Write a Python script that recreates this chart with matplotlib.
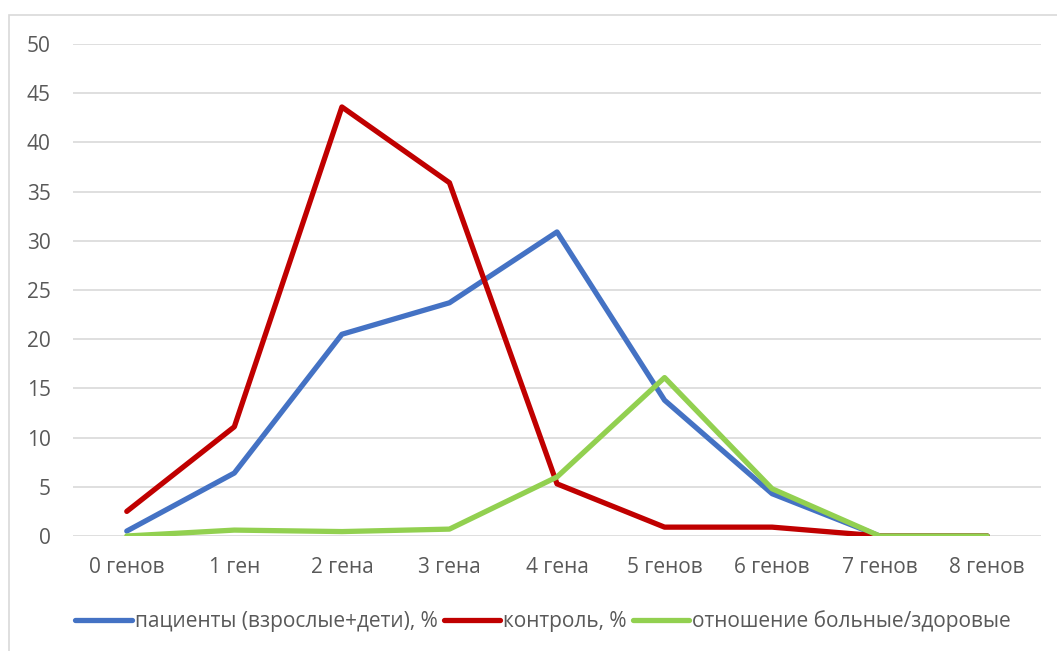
import matplotlib
matplotlib.use("Agg")
import matplotlib.pyplot as plt
from matplotlib.patches import Rectangle

plt.rcParams['font.family'] = ['Open Sans', 'DejaVu Sans']

# categories and series
categories = ["0 генов", "1 ген", "2 гена", "3 гена", "4 гена",
              "5 генов", "6 генов", "7 генов", "8 генов"]
patients = [0.5, 6.4, 20.5, 23.7, 30.9, 13.8, 4.3, 0, 0]
control = [2.5, 11.1, 43.6, 35.9, 5.3, 0.9, 0.9, 0, 0]
ratio = [0, 0.6, 0.45, 0.7, 6.0, 16.1, 4.8, 0, 0]

names = ["пациенты (взрослые+дети), %", "контроль, %",
         "отношение больные/здоровые"]
colors = ["#4472c4", "#c00000", "#92d050"]

fig = plt.figure(figsize=(10.57, 6.51), dpi=100)
ax = fig.add_axes([73/1057, 1 - 536/651, (1041-73)/1057, (536-44)/651])

# chart border (light grey, cut at right / bottom)
fig.patches.append(Rectangle((9/1057, -0.1), 1.1, 0.1 + (651-15)/651,
                             transform=fig.transFigure, fill=False,
                             edgecolor="#d9d9d9", lw=1.2))

x = list(range(len(categories)))
for ys, name, c in zip([patients, control, ratio], names, colors):
    ax.plot(x, ys, color=c, lw=3.8, label=name, solid_capstyle="round",
            solid_joinstyle="round")

ax.set_xlim(-0.5, len(categories) - 0.5)
ax.set_ylim(0, 50)
ax.set_yticks(range(0, 51, 5))
ax.set_xticks(x)
ax.set_xticklabels(categories)
ax.yaxis.grid(True, color="#d9d9d9", lw=1.2)
ax.set_axisbelow(True)
for s in ax.spines.values():
    s.set_visible(False)
ax.tick_params(length=0, colors="#595959", labelsize=15)
ax.tick_params(axis="x", pad=15)
ax.tick_params(axis="y", pad=16)
for lab in ax.get_yticklabels():
    lab.set_horizontalalignment("right")

leg = fig.legend(loc="center", bbox_to_anchor=(0.514, 1 - 621/651), ncol=3,
                 frameon=False, fontsize=15, handlelength=2.7,
                 handletextpad=0.15, columnspacing=0.3, labelcolor="#595959")
for h in leg.get_lines():
    h.set_linewidth(3.8)

fig.savefig("out.png", dpi=100)
